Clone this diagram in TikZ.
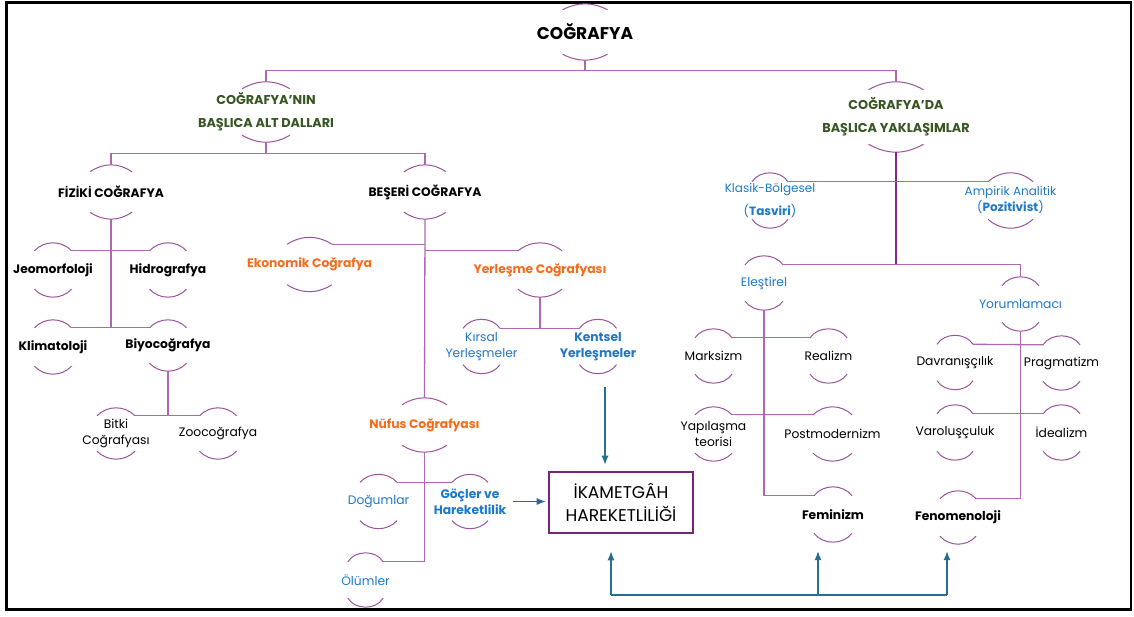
\documentclass[tikz,border=0pt]{standalone}
\usepackage{fontspec}
\setmainfont{Poppins}
\usetikzlibrary{arrows.meta}
\definecolor{mor}{RGB}{172,104,176}
\definecolor{koyumor}{RGB}{130,40,130}
\definecolor{kutumor}{RGB}{118,38,118}
\definecolor{yesil}{RGB}{55,86,35}
\definecolor{turuncu}{RGB}{247,107,28}
\definecolor{mavi}{RGB}{30,120,200}
\definecolor{okrenk}{RGB}{40,110,145}
\newcommand{\kavis}[3]{%
  \pgfmathsetmacro{\bk}{asin(min(1,#3/(0.587*#2)))}%
  \draw[kav] ([xshift=-#2pt,yshift=-#3pt]#1.north) coordinate (#1-tl) to[bend left=\bk] ([xshift=#2pt,yshift=-#3pt]#1.north) coordinate (#1-tr);
  \draw[kav] ([xshift=-#2pt,yshift=#3pt]#1.south) coordinate (#1-bl) to[bend right=\bk] ([xshift=#2pt,yshift=#3pt]#1.south) coordinate (#1-br);}

\begin{document}
\begin{tikzpicture}[x=1pt,y=1pt,
    hat/.style={mor,line width=1.3pt},
    kav/.style={koyumor!80,line width=1pt},
    ok/.style={okrenk,line width=1.1pt,-{Latex[length=9pt,width=7pt]}},
    dal/.style={inner sep=0pt,minimum height=54pt,align=center,text=black,font=\fontsize{12.3}{16}\selectfont},
    kalin/.style={dal,text=black,font=\bfseries\fontsize{12.3}{16}\selectfont},
    baslik/.style={kalin,text=yesil,font=\bfseries\fontsize{12.8}{23.5}\selectfont},
    turuncu dal/.style={kalin,text=turuncu},
    mavi dal/.style={dal,text=mavi},
    mavi kalin/.style={kalin,text=mavi}]
\useasboundingbox (0,0) rectangle (1134,-617);
\draw[line width=2.6pt] (6.5,-2.5) rectangle (1131,-609.5);

\node[kalin,minimum height=56pt,font=\bfseries\fontsize{17}{20}\selectfont] (cog) at (585,-32) {COĞRAFYA};
\node[baslik,minimum height=60pt] (dallar) at (266,-112) {COĞRAFYA’NIN\\BAŞLICA ALT DALLARI};
\node[baslik,minimum height=70pt] (yaklasim) at (896,-117) {COĞRAFYA’DA\\BAŞLICA YAKLAŞIMLAR};

\node[kalin] (fiziki) at (111,-192) {FİZİKİ COĞRAFYA};
\node[kalin] (beseri) at (425,-192) {BEŞERİ COĞRAFYA};
\node[kalin] (jeo) at (53,-270) {Jeomorfoloji};
\node[kalin] (hidro) at (168,-270) {Hidrografya};
\node[kalin] (klima) at (53,-347) {Klimatoloji};
\node[kalin,minimum height=51pt] (biyo) at (168,-345.5) {Biyocoğrafya};
\node[dal,minimum height=51pt] (bitki) at (116,-433.5) {Bitki\\Coğrafyası};
\node[dal,minimum height=51pt] (zoo) at (218,-433.5) {Zoocoğrafya};

\node[turuncu dal] (ekon) at (309.5,-264.5) {Ekonomik Coğrafya};
\node[turuncu dal] (yerlesme) at (540,-270) {Yerleşme Coğrafyası};
\node[mavi dal] (kirsal) at (481.5,-346.5) {Kırsal\\Yerleşmeler};
\node[mavi kalin] (kentsel) at (598,-346.5) {Kentsel\\Yerleşmeler};
\node[turuncu dal] (nufus) at (424.5,-425) {Nüfus Coğrafyası};
\node[mavi dal] (dogum) at (378.5,-501.5) {Doğumlar};
\node[mavi kalin] (goc) at (470,-501.5) {Göçler ve\\Hareketlilik};
\node[mavi dal] (olum) at (365.5,-580) {Ölümler};

\node[draw=kutumor,line width=2.6pt,minimum width=144pt,minimum height=61pt,align=center,
  font=\fontsize{17}{23}\selectfont] (ikamet) at (621,-502.5) {İKAMETGÂH\\HAREKETLİLİĞİ};

\node[mavi dal,minimum height=55pt,font=\fontsize{12}{23}\selectfont] (klasik) at (770,-200.5) {Klasik-Bölgesel\\(\textbf{Tasviri})};
\node[mavi dal,minimum height=55pt,font=\fontsize{12}{16}\selectfont] (ampirik) at (1010.5,-200.5) {Ampirik Analitik\\(\textbf{Pozitivist})};
\node[mavi dal] (elestirel) at (764,-283) {Eleştirel};
\node[mavi dal] (yorum) at (1020.5,-304) {Yorumlamacı};
\node[dal] (marks) at (713.5,-356) {Marksizm};
\node[dal] (real) at (828.5,-356) {Realizm};
\node[dal] (yapi) at (713.5,-434) {Yapılaşma\\teorisi};
\node[dal] (postm) at (832.5,-434) {Postmodernizm};
\node[kalin,minimum height=55pt] (femin) at (833,-514.5) {Feminizm};
\node[dal] (davr) at (955,-362.5) {Davranışçılık};
\node[dal] (prag) at (1061.5,-363) {Pragmatizm};
\node[dal,minimum height=55pt] (varol) at (955,-432.5) {Varoluşçuluk};
\node[dal,minimum height=55pt] (ideal) at (1061.5,-432.5) {İdealizm};
\node[kalin,minimum height=53pt] (fenom) at (958,-517.5) {Fenomenoloji};

\kavis{cog}{22.5}{6}
\kavis{dallar}{24}{7}
\kavis{yaklasim}{27.5}{8}
\kavis{fiziki}{21}{7}
\kavis{beseri}{21}{7}
\kavis{jeo}{18.5}{8}
\kavis{hidro}{18.5}{8}
\kavis{klima}{18.5}{8}
\kavis{biyo}{18.5}{8}
\kavis{bitki}{19}{8}
\kavis{zoo}{18.5}{8}
\kavis{ekon}{22.5}{7}
\kavis{yerlesme}{22}{8}
\kavis{kirsal}{18.5}{9}
\kavis{kentsel}{18.5}{9}
\kavis{nufus}{22.5}{7}
\kavis{dogum}{18.5}{8}
\kavis{goc}{18}{8}
\kavis{olum}{17.5}{9}
\kavis{klasik}{18}{9}
\kavis{ampirik}{22.5}{9}
\kavis{elestirel}{19}{9}
\kavis{yorum}{18.5}{9}
\kavis{marks}{18.5}{9}
\kavis{real}{18.5}{9}
\kavis{yapi}{18.5}{8}
\kavis{postm}{19.5}{8}
\kavis{femin}{19}{9}
\kavis{davr}{18}{9}
\kavis{prag}{18.5}{9}
\kavis{varol}{18}{9}
\kavis{ideal}{18.5}{9}
\kavis{fenom}{18}{8}

\draw[hat] (cog.south) -- ++(0,-10) coordinate (c1);
\draw[hat] (dallar.north) |- (c1) -| (yaklasim.north);
\draw[hat] (dallar.south) -- ++(0,-11) coordinate (c2);
\draw[hat] (fiziki.north) |- (c2) -| (beseri.north);

\draw[hat] (fiziki.south) -- (fiziki.south |- klima-tr);
\draw[hat] (jeo-tr) -- (hidro-tl);
\draw[hat] (klima-tr) -- (biyo-tl);
\draw[hat] (biyo.south) -- (biyo.south |- bitki-tr);
\draw[hat] (bitki-tr) -- (zoo-tl);

\draw[hat] (beseri.south) -- (nufus.north);
\draw[hat] (ekon-tr) -- (ekon-tr -| beseri.south);
\draw[hat] (yerlesme-tl) -- (yerlesme-tl -| beseri.south);
\draw[hat] (yerlesme.south) -- (yerlesme.south |- kirsal-tr);
\draw[hat] (kirsal-tr) -- (kentsel-tl);
\draw[hat] (nufus.south) |- (olum-tr);
\draw[hat] (dogum-tr) -- (goc-tl);

\draw[hat,koyumor,line width=1.1pt] (yaklasim.south) -- (yaklasim.south |- elestirel-tr);
\draw[hat] (klasik-tr) -- (ampirik-tl);
\draw[hat] (elestirel-tr) -| (yorum.north);
\draw[hat] (elestirel.south) |- (femin-tl);
\draw[hat] (marks-tr) -- (real-tl);
\draw[hat] (yapi-tr) -- (postm-tl);
\draw[hat] (yorum.south) |- (fenom-tr);
\draw[hat] (davr-tr) -- (prag-tl);
\draw[hat] (varol-tr) -- (ideal-tl);

\coordinate (k1) at (605,-387);
\coordinate (alt1) at (611,-595);
\coordinate (alt2) at (818,-595);
\coordinate (alt3) at (947,-595);
\draw[ok,shorten >=6pt] (k1) -- (k1 |- ikamet.north);
\draw[ok,shorten <=7pt,shorten >=2pt] (goc.east) -- (goc.east -| ikamet.west);
\draw[okrenk,line width=1.1pt] (alt1) -- (alt3);
\draw[ok,shorten >=17pt] (alt1) -- (alt1 |- ikamet.south);
\draw[ok,shorten >=9pt] (alt2) -- (alt2 |- femin.south);
\draw[ok,shorten >=7pt] (alt3) -- (alt3 |- fenom.south);
\end{tikzpicture}
\end{document}
